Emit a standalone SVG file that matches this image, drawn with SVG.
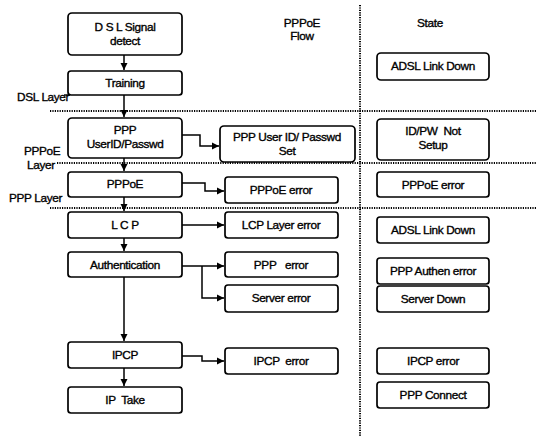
<svg xmlns="http://www.w3.org/2000/svg" width="536" height="437" viewBox="0 0 536 437">
<defs>
<marker id="ah" markerWidth="8" markerHeight="8" refX="7" refY="4" orient="auto" markerUnits="userSpaceOnUse">
<path d="M0,0.5 L7,4 L0,7.5 Z" fill="#000"/>
</marker>
<style>
.box{fill:#fff;stroke:#000;stroke-width:1.7}
.t{font-family:"Liberation Sans",Arial,sans-serif;font-size:11.8px;fill:#000;stroke:#000;stroke-width:0.35;text-anchor:middle;letter-spacing:-0.35px;white-space:pre}
.l{font-family:"Liberation Sans",Arial,sans-serif;font-size:11.8px;fill:#000;stroke:#000;stroke-width:0.35;letter-spacing:-0.35px;white-space:pre}
.c{fill:none;stroke:#000;stroke-width:1.5}
.dot{fill:none;stroke:#000;stroke-width:2;stroke-dasharray:1.2 1.2}
</style>
</defs>
<rect width="536" height="437" fill="#fff"/>

<g id="separators">
<line class="dot" x1="360" y1="5" x2="360" y2="437"/>
<line class="dot" x1="50" y1="111" x2="536" y2="111"/>
<line class="dot" x1="57" y1="163" x2="536" y2="163"/>
<line class="dot" x1="50" y1="208" x2="536" y2="208"/>
</g>

<g id="headers">
<text class="t" x="302" y="27">PPPoE</text>
<text class="t" x="302" y="40">Flow</text>
<text class="t" x="430" y="27">State</text>
</g>

<g id="layer-labels">
<text class="l" x="17" y="101">DSL Layer</text>
<line x1="64" y1="95" x2="70" y2="95" stroke="#000" stroke-width="1.4"/>
<text class="l" x="24" y="155">PPPoE</text>
<text class="l" x="27" y="169">Layer</text>
<text class="l" x="9" y="202">PPP Layer</text>
</g>

<g id="connectors">
<line class="c" x1="124" y1="55" x2="124" y2="70" marker-end="url(#ah)"/>
<line class="c" x1="124" y1="95" x2="124" y2="117" marker-end="url(#ah)"/>
<line class="c" x1="124" y1="158" x2="124" y2="171" marker-end="url(#ah)"/>
<line class="c" x1="124" y1="197" x2="124" y2="211" marker-end="url(#ah)"/>
<line class="c" x1="124" y1="238" x2="124" y2="251" marker-end="url(#ah)"/>
<line class="c" x1="124" y1="277" x2="124" y2="341" marker-end="url(#ah)"/>
<line class="c" x1="124" y1="368" x2="124" y2="386" marker-end="url(#ah)"/>
<polyline class="c" points="182,135 200,135 200,146 219,146" marker-end="url(#ah)"/>
<polyline class="c" points="182,183 205,183 205,191 224,191" marker-end="url(#ah)"/>
<line class="c" x1="182" y1="225" x2="224" y2="225" marker-end="url(#ah)"/>
<line class="c" x1="182" y1="266" x2="224" y2="266" marker-end="url(#ah)"/>
<polyline class="c" points="202,266 202,298 224,298" marker-end="url(#ah)"/>
<polyline class="c" points="182,356 202,356 202,361 224,361" marker-end="url(#ah)"/>
</g>

<g id="dsl-detect"><rect class="box" x="68" y="13" width="114" height="42" rx="4"/><text class="t" x="125" y="31">D S L Signal</text><text class="t" x="125" y="45">detect</text></g>
<g id="training"><rect class="box" x="68" y="71" width="114" height="24" rx="3"/><text class="t" x="125" y="87">Training</text></g>
<g id="ppp-userid"><rect class="box" x="68" y="118" width="114" height="40" rx="4"/><text class="t" x="125" y="134">PPP</text><text class="t" x="125" y="148">UserID/Passwd</text></g>
<g id="pppoe"><rect class="box" x="68" y="172" width="114" height="25" rx="3"/><text class="t" x="125" y="188">PPPoE</text></g>
<g id="lcp"><rect class="box" x="68" y="212" width="114" height="26" rx="3"/><text class="t" x="125" y="229">L C P</text></g>
<g id="auth"><rect class="box" x="68" y="252" width="114" height="25" rx="3"/><text class="t" x="125" y="269">Authentication</text></g>
<g id="ipcp"><rect class="box" x="68" y="342" width="114" height="26" rx="3"/><text class="t" x="125" y="359">IPCP</text></g>
<g id="ip-take"><rect class="box" x="68" y="387" width="114" height="26" rx="3"/><text class="t" x="125" y="404">IP  Take</text></g>

<g id="ppp-set"><rect class="box" x="220" y="126" width="135" height="36" rx="4"/><text class="t" x="287" y="141">PPP User ID/ Passwd</text><text class="t" x="287" y="155">Set</text></g>
<g id="pppoe-error"><rect class="box" x="225" y="177" width="113" height="26" rx="3"/><text class="t" x="281" y="194">PPPoE error</text></g>
<g id="lcp-error"><rect class="box" x="225" y="212" width="113" height="26" rx="3"/><text class="t" x="281" y="229">LCP Layer error</text></g>
<g id="ppp-error"><rect class="box" x="225" y="252" width="113" height="25" rx="3"/><text class="t" x="281" y="269">PPP   error</text></g>
<g id="server-error"><rect class="box" x="225" y="285" width="113" height="27" rx="3"/><text class="t" x="281" y="302">Server error</text></g>
<g id="ipcp-error"><rect class="box" x="225" y="348" width="113" height="26" rx="3"/><text class="t" x="281" y="365">IPCP  error</text></g>

<g id="st-adsl1"><rect class="box" x="377" y="53" width="112" height="27" rx="4"/><text class="t" x="433" y="70">ADSL Link Down</text></g>
<g id="st-idpw"><rect class="box" x="377" y="119" width="112" height="41" rx="4"/><text class="t" x="433" y="135">ID/PW  Not</text><text class="t" x="433" y="149">Setup</text></g>
<g id="st-pppoe"><rect class="box" x="377" y="172" width="112" height="25" rx="3"/><text class="t" x="433" y="189">PPPoE error</text></g>
<g id="st-adsl2"><rect class="box" x="377" y="217" width="112" height="26" rx="3"/><text class="t" x="433" y="234">ADSL Link Down</text></g>
<g id="st-authen"><rect class="box" x="377" y="258" width="112" height="26" rx="3"/><text class="t" x="433" y="275">PPP Authen error</text></g>
<g id="st-server"><rect class="box" x="377" y="286" width="112" height="26" rx="3"/><text class="t" x="433" y="303">Server Down</text></g>
<g id="st-ipcp"><rect class="box" x="377" y="348" width="112" height="26" rx="3"/><text class="t" x="433" y="365">IPCP error</text></g>
<g id="st-connect"><rect class="box" x="377" y="382" width="112" height="26" rx="3"/><text class="t" x="433" y="399">PPP Connect</text></g>
</svg>
